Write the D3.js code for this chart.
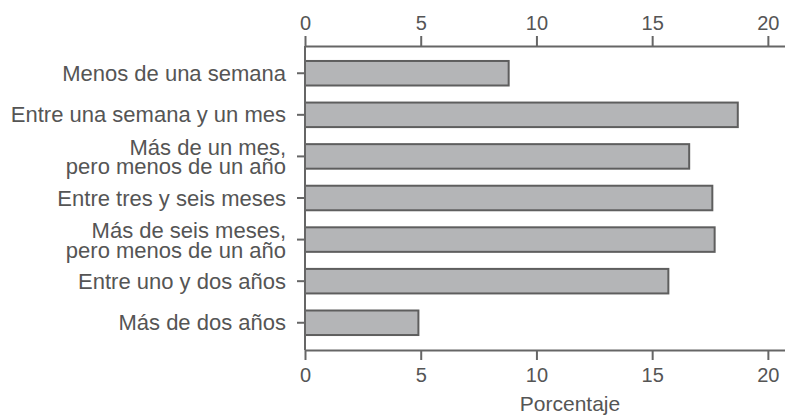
<!DOCTYPE html>
<html>
<head>
<meta charset="utf-8">
<script src="https://cdn.jsdelivr.net/npm/d3@7"></script>
<style>
  html, body { margin: 0; padding: 0; background: #fff; }
  svg { display: block; font-family: "Liberation Sans", Arial, Helvetica, sans-serif; }
</style>
</head>
<body>
<svg id="chart" width="785" height="416"></svg>
<script>
const categories = [
  ["Menos de una semana"],
  ["Entre una semana y un mes"],
  ["Más de un mes,", "pero menos de un año"],
  ["Entre tres y seis meses"],
  ["Más de seis meses,", "pero menos de un año"],
  ["Entre uno y dos años"],
  ["Más de dos años"]
];
const values = [8.8, 18.7, 16.6, 17.6, 17.7, 15.7, 4.9];
const tickValues = [0, 5, 10, 15, 20];
const axisTitle = "Porcentaje";

const W = 785, H = 416;
const plotLeft = 305, plotTop = 46, plotBottom = 350;
const textColor = "#555";
const axisColor = "#666";

const svg = d3.select("#chart");
const keys = categories.map((c, i) => i);

const x = d3.scaleLinear().domain([0, 20.74]).range([plotLeft, W]);
const y = d3.scaleBand().domain(keys).range([plotTop, plotBottom]).paddingInner(0.41).paddingOuter(0.36);

// bars
svg.append("g").selectAll("rect").data(values).join("rect")
  .attr("x", x(0))
  .attr("y", (d, i) => y(i))
  .attr("width", d => x(d) - x(0))
  .attr("height", y.bandwidth())
  .attr("fill", "#b4b5b7")
  .attr("stroke", "#5e5e5e")
  .attr("stroke-width", 2);

function styleAxis(g, fs) {
  g.select(".domain").attr("stroke", axisColor).attr("stroke-width", 2);
  g.selectAll(".tick line").attr("stroke", axisColor).attr("stroke-width", 2);
  g.selectAll(".tick text").attr("fill", textColor).style("font-size", fs + "px");
}

// top axis
const gTop = svg.append("g").attr("transform", `translate(0,${plotTop})`)
  .call(d3.axisTop(x).tickValues(tickValues).tickSize(10).tickPadding(6).tickSizeOuter(0));
styleAxis(gTop, 20);

// bottom axis
const gBot = svg.append("g").attr("transform", `translate(0,${plotBottom})`)
  .call(d3.axisBottom(x).tickValues(tickValues).tickSize(10).tickPadding(8).tickSizeOuter(0));
styleAxis(gBot, 20);

// left axis
const gLeft = svg.append("g").attr("transform", `translate(${plotLeft},0)`)
  .call(d3.axisLeft(y).tickSize(8).tickPadding(11).tickSizeOuter(0).tickFormat(""));
gLeft.select(".domain").attr("stroke", axisColor).attr("stroke-width", 2)
  .attr("d", `M0,${plotTop}V${plotBottom}`);
gLeft.selectAll(".tick line").attr("stroke", axisColor).attr("stroke-width", 2);
gLeft.selectAll(".tick text").remove();

// category labels
const lab = svg.append("g").attr("fill", textColor).style("font-size", "22px").attr("text-anchor", "end");
categories.forEach((lines, i) => {
  const cy = y(i) + y.bandwidth() / 2;
  const t = lab.append("text").attr("x", plotLeft - 19);
  if (lines.length === 1) {
    t.append("tspan").attr("x", plotLeft - 19).attr("y", cy + 7.5).text(lines[0]);
  } else {
    t.append("tspan").attr("x", plotLeft - 19).attr("y", cy - 1.5).text(lines[0]);
    t.append("tspan").attr("x", plotLeft - 19).attr("y", cy + 18).text(lines[1]);
  }
});

// axis title
svg.append("text")
  .attr("x", 570).attr("y", 411)
  .attr("text-anchor", "middle")
  .attr("fill", textColor)
  .style("font-size", "21px")
  .text(axisTitle);
</script>
</body>
</html>
